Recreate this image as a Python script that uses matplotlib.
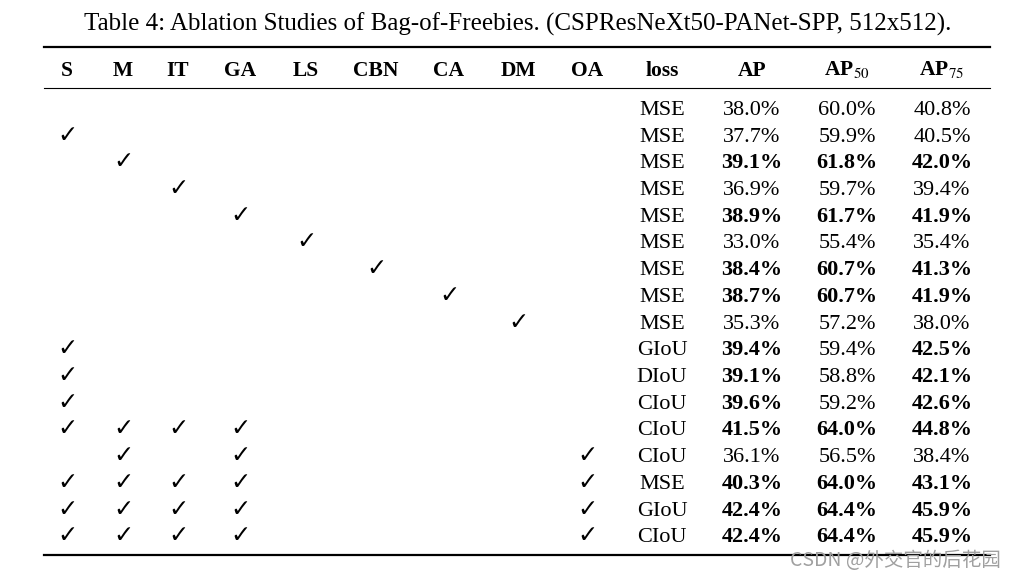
import matplotlib.pyplot as plt

plt.rcParams['font.family'] = ['Liberation Serif', 'DejaVu Serif']
plt.rcParams['mathtext.fontset'] = 'stix'

title = 'Table 4: Ablation Studies of Bag-of-Freebies. (CSPResNeXt50-PANet-SPP, 512x512).'
flag_cols = ['S', 'M', 'IT', 'GA', 'LS', 'CBN', 'CA', 'DM', 'OA']
metric_cols = ['AP', r'AP$_{50}$', r'AP$_{75}$']

# which flags are on in each row
checks = [
    [],
    ['S'],
    ['M'],
    ['IT'],
    ['GA'],
    ['LS'],
    ['CBN'],
    ['CA'],
    ['DM'],
    ['S'],
    ['S'],
    ['S'],
    ['S', 'M', 'IT', 'GA'],
    ['M', 'GA', 'OA'],
    ['S', 'M', 'IT', 'GA', 'OA'],
    ['S', 'M', 'IT', 'GA', 'OA'],
    ['S', 'M', 'IT', 'GA', 'OA'],
]
loss = ['MSE', 'MSE', 'MSE', 'MSE', 'MSE', 'MSE', 'MSE', 'MSE', 'MSE',
        'GIoU', 'DIoU', 'CIoU', 'CIoU', 'CIoU', 'MSE', 'GIoU', 'CIoU']
ap = [38.0, 37.7, 39.1, 36.9, 38.9, 33.0, 38.4, 38.7, 35.3,
      39.4, 39.1, 39.6, 41.5, 36.1, 40.3, 42.4, 42.4]
ap50 = [60.0, 59.9, 61.8, 59.7, 61.7, 55.4, 60.7, 60.7, 57.2,
        59.4, 58.8, 59.2, 64.0, 56.5, 64.0, 64.4, 64.4]
ap75 = [40.8, 40.5, 42.0, 39.4, 41.9, 35.4, 41.3, 41.9, 38.0,
        42.5, 42.1, 42.6, 44.8, 38.4, 43.1, 45.9, 45.9]

fig = plt.figure(figsize=(10.16, 5.78), dpi=100)
ax = fig.add_axes([0, 0, 1, 1])
ax.set_xlim(0, 1016)
ax.set_ylim(578, 0)
ax.axis('off')

flag_x = [67, 123, 178, 240, 306, 376, 449, 518, 587]
loss_x = 662
metric_x = [752, 847, 942]
fs = 16

ax.text(518, 31, title, ha='center', va='baseline', fontsize=18)

# rules
ax.plot([44, 990], [47, 47], color='black', lw=1.6)
ax.plot([44, 990], [88, 88], color='black', lw=0.8)
ax.plot([44, 990], [555, 555], color='black', lw=1.6)

# header
header_y = 75.5
for name, x in zip(flag_cols, flag_x):
    ax.text(x, header_y, name, ha='center', va='baseline', fontsize=15.5, fontweight='bold')
ax.text(loss_x, header_y, 'loss', ha='center', va='baseline', fontsize=15.5, fontweight='bold')
for name, x in zip(metric_cols, metric_x):
    ax.text(x, header_y, name, ha='center', va='baseline', fontsize=15.5, fontweight='bold')

# body
row_y0 = 115
row_h = 26.7
for i in range(len(loss)):
    y = row_y0 + i * row_h
    for name, x in zip(flag_cols, flag_x):
        if name in checks[i]:
            ax.text(x + 1, y - 7, '\u2713', ha='center', va='center', fontsize=17.5,
                    family=['DejaVu Sans'])
    ax.text(loss_x, y, loss[i], ha='center', va='baseline', fontsize=fs)
    for vals, x in zip([ap, ap50, ap75], metric_x):
        bold = vals[i] > vals[0]
        ax.text(x, y, f'{vals[i]:.1f}%', ha='center', va='baseline', fontsize=fs,
                fontweight='bold' if bold else 'normal')

# watermark
ax.text(895, 560, 'CSDN @外交官的后花园', ha='center', va='center', fontsize=14,
        color='#a0a0a0', family=['Noto Sans CJK SC', 'DejaVu Sans'])

fig.savefig('out.png', dpi=100)
